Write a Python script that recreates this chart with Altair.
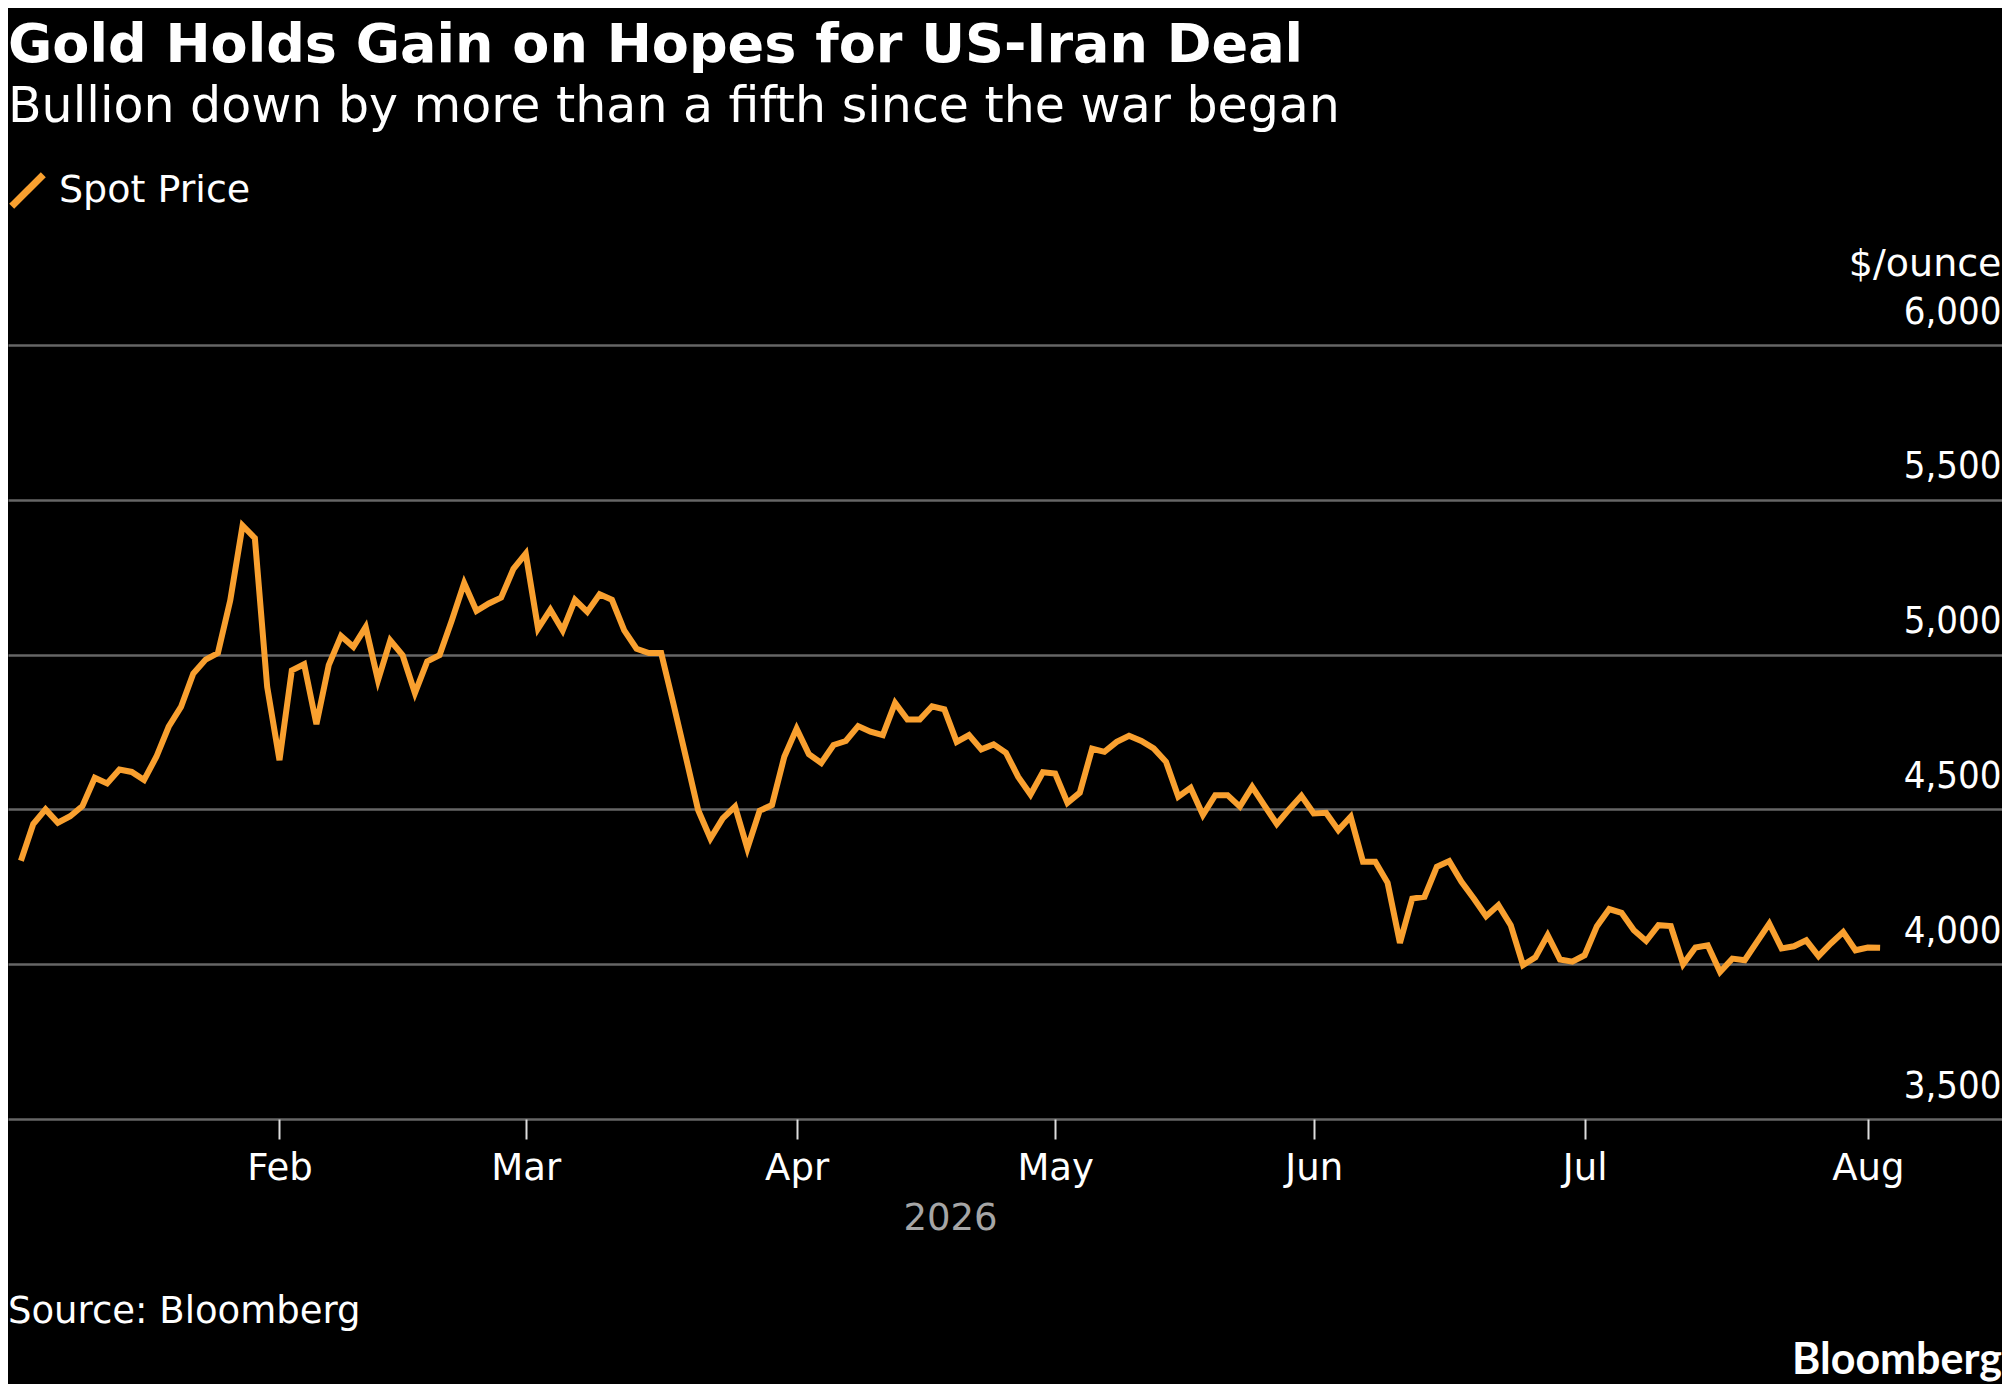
import altair as alt
import pandas as pd

# 現貨金價（$/ounce），每個交易日一點，從 2026-01-02 起，依圖讀值估計
spot_price = [
    4334, 4453, 4500, 4457, 4478, 4511, 4602, 4584, 4629, 4621,
    4595, 4670, 4767, 4831, 4939, 4984, 5005, 5175, 5417, 5376,
    4896, 4659, 4949, 4969, 4775, 4966, 5060, 5025, 5089, 4917,
    5046, 4998, 4876, 4978, 4998, 5111, 5231, 5141, 5165, 5184,
    5277, 5326, 5084, 5145, 5078, 5177, 5138, 5195, 5177, 5078,
    5019, 5005, 5005, 4840, 4670, 4498, 4406, 4471, 4509, 4374,
    4496, 4514, 4670, 4761, 4678, 4650, 4708, 4721, 4769, 4751,
    4740, 4844, 4790, 4790, 4833, 4823, 4718, 4740, 4694, 4710,
    4683, 4605, 4548, 4620, 4616, 4521, 4554, 4696, 4686, 4718,
    4738, 4721, 4697, 4654, 4541, 4570, 4482, 4546, 4546, 4509,
    4573, 4512, 4453, 4500, 4544, 4487, 4489, 4433, 4476, 4331,
    4331, 4263, 4069, 4212, 4218, 4315, 4333, 4266, 4212, 4155,
    4191, 4126, 3997, 4022, 4094, 4015, 4008, 4029, 4123, 4178,
    4166, 4110, 4075, 4126, 4123, 4000, 4054, 4061, 3975, 4018,
    4013, 4072, 4131, 4051, 4058, 4077, 4026, 4067, 4104, 4045,
    4054, 4053,
]
day_index = list(range(len(spot_price)))

# 每月第一個交易日的位置（交易日序號）跟月份標籤
month_tick_index = [21, 41, 63, 84, 105, 127, 150]
month_tick_label = ["Feb", "Mar", "Apr", "May", "Jun", "Jul", "Aug"]
price_ticks = [3500, 4000, 4500, 5000, 5500, 6000]

series_name = "Spot Price"
title_text = "Gold Holds Gain on Hopes for US-Iran Deal"
subtitle_text = "Bullion down by more than a fifth since the war began"
source_text = "Source: Bloomberg"
logo_text = "Bloomberg"

FONT = "DejaVu Sans"
NUM_FONT = "DejaVu Sans Condensed, DejaVu Sans"  # 數字比較窄
ORANGE = "#F9A02F"
GRID_GRAY = "#666666"

df = pd.DataFrame({"day": day_index, "price": spot_price, "series": series_name})

# 把序號轉回月份名稱的 labelExpr
label_expr = "''"
for idx, name in reversed(list(zip(month_tick_index, month_tick_label))):
    label_expr = f"datum.value == {idx} ? '{name}' : ({label_expr})"

line = (
    alt.Chart(df)
    .mark_line(strokeWidth=6)
    .encode(
        x=alt.X(
            "day:Q",
            scale=alt.Scale(domain=[-1.05, 160.9], nice=False, zero=False),
            axis=alt.Axis(
                values=month_tick_index,
                labelExpr=label_expr,
                domain=False,
                grid=False,
                ticks=True,
                tickSize=20,
                tickWidth=2,
                tickColor="#dddddd",
                labelFontSize=37,
                labelFont=FONT,
                labelColor="white",
                labelPadding=11,
                title="2026",
                titleFont=FONT,
                titleFontSize=37,
                titleFontWeight="normal",
                titleColor="#a6a6a6",
                titleX=942,
                titleY=110,
                titleBaseline="alphabetic",
            ),
        ),
        y=alt.Y(
            "price:Q",
            scale=alt.Scale(domain=[3500, 6000], nice=False, zero=False),
            axis=alt.Axis(
                orient="right",
                values=price_ticks,
                format=",.0f",
                domain=False,
                ticks=False,
                tickSize=0,
                grid=True,
                gridColor=GRID_GRAY,
                gridWidth=2.5,
                labelFontSize=38,
                labelFont=NUM_FONT,
                labelColor="white",
                labelAlign="right",
                labelBaseline="alphabetic",
                labelPadding=-1,
                labelOffset=-22,
                title="$/ounce",
                titleFont=FONT,
                titleFontSize=38,
                titleFontWeight="normal",
                titleColor="white",
                titleAngle=0,
                titleAlign="right",
                titleBaseline="alphabetic",
                titleX=-1,
                titleY=-70,
            ),
        ),
        color=alt.Color(
            "series:N",
            scale=alt.Scale(domain=[series_name], range=[ORANGE]),
            legend=alt.Legend(
                title=None,
                orient="none",
                legendX=0,
                legendY=-174,
                symbolType="M-1,1L1,-1",
                symbolSize=1000,
                symbolStrokeWidth=7,
                labelFontSize=38,
                labelFont=FONT,
                labelColor="white",
                labelOffset=12,
                labelLimit=400,
                padding=0,
            ),
        ),
    )
)

source = (
    alt.Chart(pd.DataFrame({"t": [source_text]}))
    .mark_text(align="left", baseline="alphabetic", fontSize=37, font=FONT, color="white")
    .encode(x=alt.value(0), y=alt.value(978), text="t:N")
)

logo = (
    alt.Chart(pd.DataFrame({"t": [logo_text]}))
    .mark_text(align="right", baseline="alphabetic", fontSize=43, font="Lato", fontWeight="bold", color="white")
    .encode(x=alt.value(1994), y=alt.value(1029), text="t:N")
)

chart = (
    alt.layer(line, source, logo)
    .properties(
        width=1994,
        height=774,
        autosize=alt.AutoSizeParams(type="none"),
        padding={"left": 0, "right": 0, "top": 337, "bottom": 265},
        title=alt.TitleParams(
            text=title_text,
            subtitle=subtitle_text,
            anchor="start",
            font=FONT,
            fontSize=54,
            fontWeight="bold",
            color="white",
            subtitleFont=FONT,
            subtitleFontSize=49,
            subtitleColor="white",
            subtitlePadding=10,
            offset=39,
        ),
    )
    .configure(background="black")
    .configure_view(stroke=None)
)

chart.save("out.html", embed_options={"renderer": "svg", "actions": False})
